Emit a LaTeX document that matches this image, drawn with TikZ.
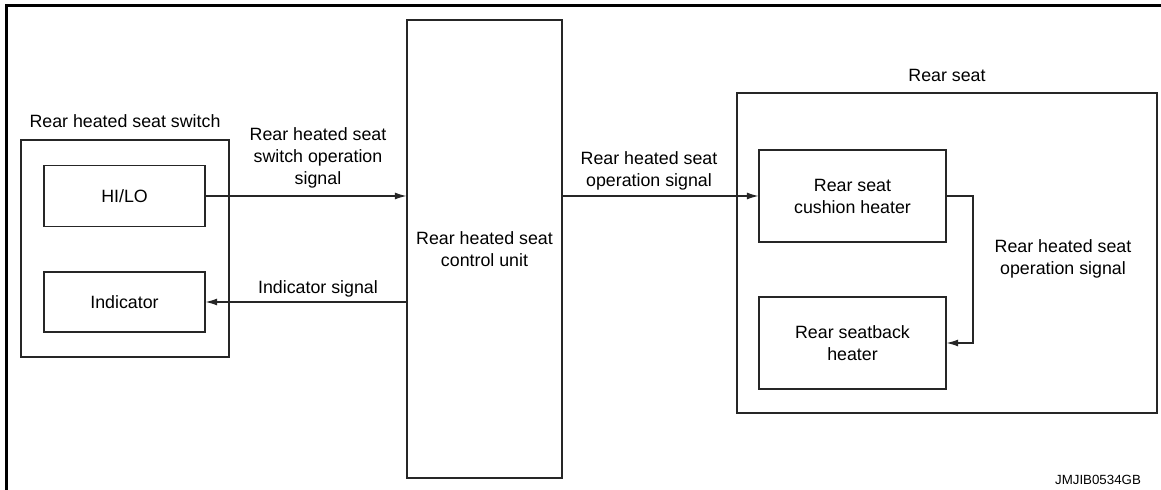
\documentclass[tikz,border=0pt]{standalone}
\usepackage{fontspec}
\setmainfont{Liberation Sans}
\usetikzlibrary{arrows.meta}
\begin{document}
\begin{tikzpicture}[x=0.5pt,y=-0.5pt,
  txt/.style={font=\fontsize{8.9}{11}\selectfont, align=center, inner sep=0pt},
  box/.style={draw=black!85, line width=0.55pt, rectangle, inner sep=0pt, txt},
  conn/.style={draw=black!85, line width=0.55pt, -{Latex[length=5.8pt,width=3.5pt]}},
  frame/.style={line width=1.6pt, black}]
\useasboundingbox (0,0) rectangle (1161,490);
\coordinate (ftl) at (6.5,5.5);
\coordinate (ftr) at (1161,5.5);
\coordinate (fbl) at (6.5,490);
\draw[frame] (ftr) -- (ftl) -- (fbl);
% left switch group
\node[box, minimum width=104pt, minimum height=108.5pt] (sw) at (125,248.5) {};
\node[txt] (swl) at (125,121) {Rear heated seat switch};
\node[box, minimum width=80.5pt, minimum height=30.5pt] (hilo) at (124.5,196) {HI/LO};
\node[box, minimum width=80.5pt, minimum height=30pt] (ind) at (124.5,302) {Indicator};
% control unit
\node[box, minimum width=77.5pt, minimum height=229pt] (cu) at (484.5,249) {Rear heated seat\\control unit};
% rear seat group
\node[box, minimum width=210pt, minimum height=160pt] (rs) at (947,253) {};
\node[txt] (rsl) at (947,75) {Rear seat};
\node[box, minimum width=93.5pt, minimum height=46pt] (cush) at (852.5,196) {Rear seat\\cushion heater};
\node[box, minimum width=93.5pt, minimum height=46pt] (back) at (852.5,343) {Rear seatback\\heater};
% connectors
\draw[conn] (hilo.east) -- (cu.west |- hilo.east);
\draw[conn] (cu.west |- ind.east) -- (ind.east);
\draw[conn] (cu.east |- cush.west) -- (cush.west);
\coordinate (bend1) at (973,196);
\coordinate (bend2) at (973,343);
\draw[conn] (cush.east |- bend1) -- (bend1) -- (bend2) -- (back.east);
% labels
\node[txt] (l1) at (318,158) {Rear heated seat\\switch operation\\signal};
\node[txt] (l2) at (318,289) {Indicator signal};
\node[txt] (l3) at (649,170.5) {Rear heated seat\\operation signal};
\node[txt] (l4) at (1063,258.5) {Rear heated seat\\operation signal};
\node[txt, font=\fontsize{6.65}{8}\selectfont] (code) at (1098,480) {JMJIB0534GB};
\end{tikzpicture}
\end{document}
